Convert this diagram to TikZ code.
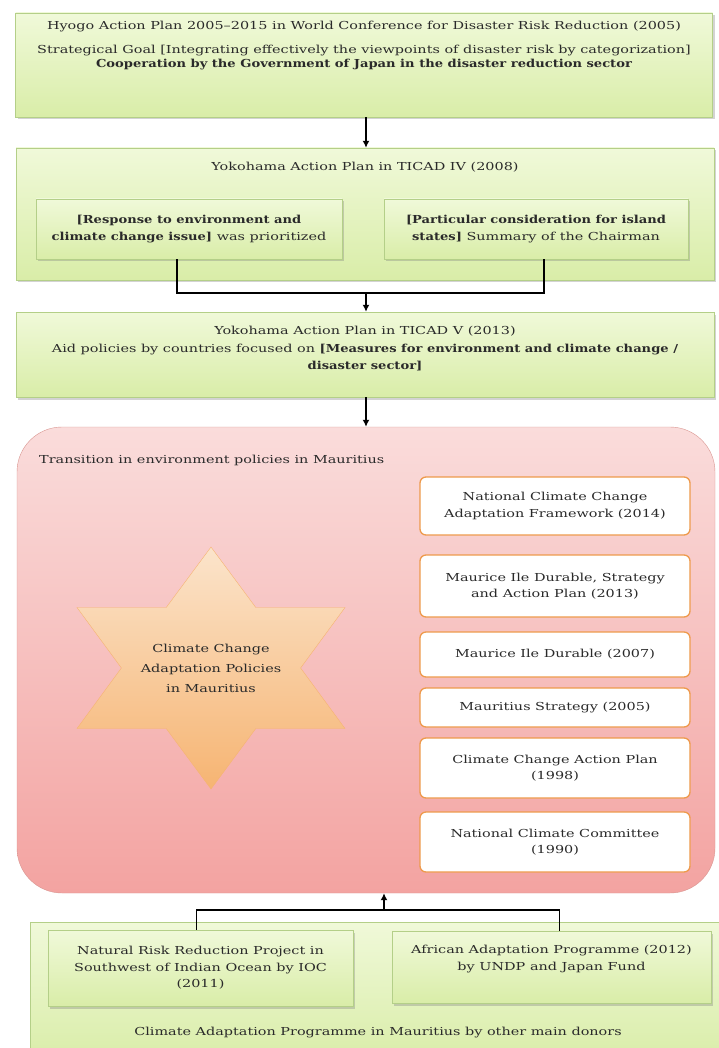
\documentclass[tikz,border=0pt]{standalone}
\usepackage{fontspec}
\setmainfont{DejaVu Serif}[FakeStretch=1.31]
\newfontface\heavyface{DejaVu Serif Bold}[FakeStretch=1.19]
\newcommand{\heavy}[1]{{\heavyface #1}}
\usetikzlibrary{shadows,arrows.meta}

\definecolor{greentop}{HTML}{F0F9D9}
\definecolor{greenbot}{HTML}{D9EDA8}
\definecolor{greenline}{HTML}{B4CF88}
\definecolor{pinktop}{HTML}{FADCDB}
\definecolor{pinkbot}{HTML}{F3A3A1}
\definecolor{pinkline}{HTML}{D89590}
\definecolor{startop}{HTML}{FBE4CB}
\definecolor{starbot}{HTML}{F6B472}
\definecolor{orangeline}{HTML}{EE9A4C}
\definecolor{inkgrey}{HTML}{2A2A2A}

\tikzset{
	greenbox/.style={draw=greenline, top color=greentop, bottom color=greenbot, inner sep=0pt,
		drop shadow={opacity=0.35, shadow xshift=2pt, shadow yshift=-2.5pt}},
	pinkbox/.style={draw=pinkline, top color=pinktop, bottom color=pinkbot, rounded corners=45pt, inner sep=0pt},
	policybox/.style={draw=orangeline, line width=1.3pt, fill=white, rounded corners=6pt,
		minimum width=270pt, inner sep=0pt},
	label/.style={align=center, inner sep=0pt, text=inkgrey, font=\fontsize{11}{16.5}\selectfont},
	wire/.style={line width=1.6pt, black},
	flow/.style={wire, -{Latex[length=7pt, width=7pt]}}
}

\begin{document}
\begin{tikzpicture}[x=1pt, y=-1pt]
	\useasboundingbox (0, 0) rectangle (719, 1048);
	% Top green boxes:
	\node[greenbox, minimum width=697pt, minimum height=104pt] (hyogo) at (364, 65){};
	\node[label] (hyogot1) at (364, 27){Hyogo Action Plan 2005--2015 in World Conference for Disaster Risk Reduction (2005)};
	\node[label, font=\fontsize{11}{14}\selectfont] (hyogot2) at (364, 58){Strategical Goal [Integrating effectively the viewpoints of disaster risk by categorization]\\
		\heavy{Cooperation by the Government of Japan in the disaster reduction sector}};
	\node[greenbox, minimum width=698pt, minimum height=132pt] (ticadfour) at (365, 214){};
	\node[label] (ticadfourt) at (365, 167){Yokohama Action Plan in TICAD IV (2008)};
	\node[greenbox, minimum width=306pt, minimum height=60pt, label] (response) at (189, 229){\heavy{[Response to environment and}\\ \heavy{climate change issue]} was prioritized};
	\node[greenbox, minimum width=304pt, minimum height=60pt, label] (island) at (536, 229){\heavy{[Particular consideration for island}\\ \heavy{states]} Summary of the Chairman};
	\node[greenbox, minimum width=698pt, minimum height=85pt] (ticadfive) at (365, 354.5){};
	\node[label, font=\fontsize{11}{17.5}\selectfont] (ticadfivet) at (365, 349){Yokohama Action Plan in TICAD V (2013)\\
		Aid policies by countries focused on \heavy{[Measures for environment and climate change /}\\
		\heavy{disaster sector]}};
	% Mauritius policies:
	\node[pinkbox, minimum width=698pt, minimum height=466pt] (mauritius) at (366, 660){};
	\node[label, anchor=west] (mauritiust) at (39, 460){Transition in environment policies in Mauritius};
	\draw[draw=starbot, top color=startop, bottom color=starbot, shift={(211, 668)}]
		(0, -121) -- (44.8, -60.5) -- (134, -60.5) -- (89.6, 0) -- (134, 60.5) -- (44.8, 60.5)
		-- (0, 121) -- (-44.8, 60.5) -- (-134, 60.5) -- (-89.6, 0) -- (-134, -60.5) -- (-44.8, -60.5) -- cycle;
	\node[label, font=\fontsize{11}{20}\selectfont] (startext) at (211, 668){Climate Change\\ Adaptation Policies\\ in Mauritius};
	\node[policybox, minimum height=58pt, label] (nccaf) at (555, 506){National Climate Change\\ Adaptation Framework (2014)};
	\node[policybox, minimum height=62pt, label] (mid) at (555, 586){Maurice Ile Durable, Strategy\\ and Action Plan (2013)};
	\node[policybox, minimum height=45pt, label] (midd) at (555, 654.5){Maurice Ile Durable (2007)};
	\node[policybox, minimum height=39pt, label] (mstrat) at (555, 707.5){Mauritius Strategy (2005)};
	\node[policybox, minimum height=60pt, label] (ccap) at (555, 768){Climate Change Action Plan\\ (1998)};
	\node[policybox, minimum height=60pt, label] (ncc) at (555, 842){National Climate Committee\\ (1990)};
	% Donors:
	\node[greenbox, minimum width=700pt, minimum height=140pt] (donors) at (380, 992){};
	\node[label] (donorst) at (378, 1033){Climate Adaptation Programme in Mauritius by other main donors};
	\node[greenbox, minimum width=305pt, minimum height=76pt, label] (ioc) at (200.5, 968){Natural Risk Reduction Project in\\ Southwest of Indian Ocean by IOC\\ (2011)};
	\node[greenbox, minimum width=319pt, minimum height=72pt, label, text depth=18pt] (undp) at (551.5, 967){African Adaptation Programme (2012)\\ by UNDP and Japan Fund};
	% Connectors:
	\coordinate (join) at (366, 293);
	\coordinate (donorjoin) at (384, 910);
	\draw[flow] (hyogo.south -| join) -- (ticadfour.north -| join);
	\draw[wire] ([xshift=-12pt]response.south) |- (join);
	\draw[wire] ([xshift=8pt]island.south) |- (join);
	\draw[flow] (join) -- (ticadfive.north -| join);
	\draw[flow] (ticadfive.south -| join) -- (mauritius.north -| join);
	\draw[wire] ([xshift=-4pt]ioc.north) |- (donorjoin);
	\draw[wire] ([xshift=8pt]undp.north) |- (donorjoin);
	\draw[flow] (donorjoin) -- (donorjoin |- mauritius.south);
\end{tikzpicture}
\end{document}
